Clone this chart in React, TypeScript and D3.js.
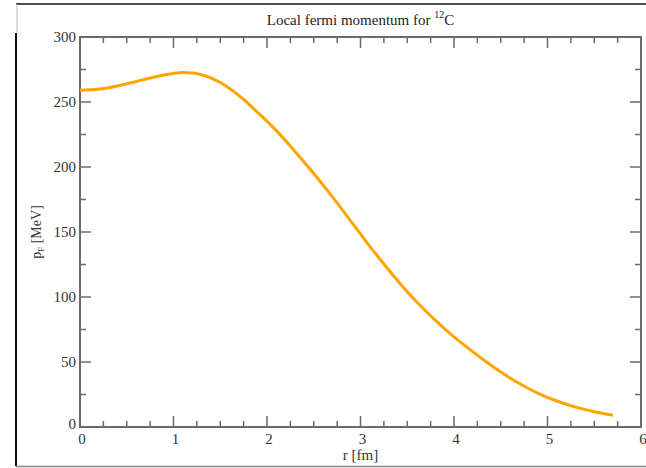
import React from 'react';
import * as d3 from 'd3';

// radius r [fm] and local fermi momentum pF [MeV]
const radius = [0, 0.2, 0.4, 0.6, 0.8, 1.0, 1.1, 1.3, 1.5, 1.7, 1.9, 2.1, 2.3, 2.5, 2.7, 2.9, 3.1, 3.3, 3.5, 3.7, 3.9, 4.1, 4.3, 4.5, 4.7, 4.9, 5.1, 5.3, 5.5, 5.7];
const momentum = [259, 259.8, 262.3, 265.8, 269.3, 272, 272.6, 271, 265, 255, 242, 228, 212, 195, 177, 158, 139, 121, 104, 89, 75.5, 63.5, 52.5, 42.3, 33.5, 25.9, 20, 15.3, 11.8, 9];

const xTicks = [0, 1, 2, 3, 4, 5, 6];
const yTicks = [0, 50, 100, 150, 200, 250, 300];

const W = 646;
const H = 468;
const margin = { top: 37, right: 5, bottom: 41, left: 80 };
const axisColor = '#6b6b6b';
const font = '"Liberation Serif", "Times New Roman", serif';

export default function App() {
  const x = d3.scaleLinear().domain([0, 6]).range([margin.left, W - margin.right]);
  const y = d3.scaleLinear().domain([0, 300]).range([H - margin.bottom, margin.top]);

  const line = d3.line<number>()
    .x((_, i) => x(radius[i]))
    .y(d => y(d))
    .curve(d3.curveCatmullRom.alpha(0.5));

  const xMinor = d3.range(0, 6.001, 0.25).filter(v => !xTicks.includes(v));
  const yMinor = d3.range(0, 300.1, 25).filter(v => !yTicks.includes(v));
  const [x0, x1] = x.range();
  const [y0, y1] = y.range();

  return (
    <svg width={W} height={H} style={{ position: 'absolute', left: 0, top: 0 }} fontFamily={font}>
      <rect width={W} height={H} fill="#fff" />
      {/* screenshot frame */}
      <line x1={16} x2={W} y1={4} y2={4} stroke="#111" strokeWidth={1.5} />
      <line x1={17} x2={17} y1={4} y2={33} stroke="#bbb" strokeWidth={1} />
      <line x1={16} x2={16} y1={33} y2={466} stroke="#111" strokeWidth={2} />
      <line x1={16} x2={W} y1={466.5} y2={466.5} stroke="#888" strokeWidth={1.5} />

      <text x={(x0 + x1) / 2} y={25} textAnchor="middle" fontSize={15} fill="#222">
        Local fermi momentum for <tspan fontSize={10} dy={-7}>12</tspan><tspan dy={7}>C</tspan>
      </text>

      {/* ticks */}
      <g stroke={axisColor} strokeWidth={1.5}>
        {xTicks.map(t => (
          <g key={'xt' + t}>
            <line x1={x(t)} x2={x(t)} y1={y0} y2={y0 - 11} />
            <line x1={x(t)} x2={x(t)} y1={y1} y2={y1 + 11} />
          </g>
        ))}
        {xMinor.map(t => (
          <g key={'xm' + t}>
            <line x1={x(t)} x2={x(t)} y1={y0} y2={y0 - 6} />
            <line x1={x(t)} x2={x(t)} y1={y1} y2={y1 + 6} />
          </g>
        ))}
        {yTicks.map(t => (
          <g key={'yt' + t}>
            <line x1={x0} x2={x0 + 11} y1={y(t)} y2={y(t)} />
            <line x1={x1} x2={x1 - 11} y1={y(t)} y2={y(t)} />
          </g>
        ))}
        {yMinor.map(t => (
          <g key={'ym' + t}>
            <line x1={x0} x2={x0 + 6} y1={y(t)} y2={y(t)} />
            <line x1={x1} x2={x1 - 6} y1={y(t)} y2={y(t)} />
          </g>
        ))}
      </g>
      <rect x={x0} y={y1} width={x1 - x0} height={y0 - y1} fill="none" stroke={axisColor} strokeWidth={2} />

      <path d={line(momentum) ?? ''} fill="none" stroke="#ffa500" strokeWidth={3} />

      <g fontSize={15} fill="#333">
        {xTicks.map(t => (
          <text key={'xl' + t} x={x(t) + 2} y={y0 + 17} textAnchor="middle">{t}</text>
        ))}
        {yTicks.map(t => (
          <text key={'yl' + t} x={x0 - 4} y={y(t) + (t === 0 ? 2 : 5)} textAnchor="end">{t}</text>
        ))}
      </g>

      <text x={(x0 + x1) / 2} y={y0 + 33} textAnchor="middle" fontSize={15} fill="#333">r [fm]</text>
      <text transform={`translate(41, ${(y0 + y1) / 2}) rotate(-90)`} textAnchor="middle" fontSize={14} fill="#333">
        p<tspan fontSize={9} dy={3}>F</tspan><tspan dy={-3}> [MeV]</tspan>
      </text>
    </svg>
  );
}
